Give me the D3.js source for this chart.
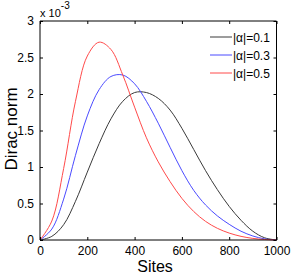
<!DOCTYPE html>
<html>
<head>
<meta charset="utf-8">
<script src="https://cdn.jsdelivr.net/npm/d3@7"></script>
<style>
  body { margin: 0; background: #fff; }
  svg { display: block; font-family: "Liberation Sans", Arial, sans-serif; }
</style>
</head>
<body>
<svg id="chart" width="305" height="277"></svg>
<script>
// norm values in units of 1e-3, every 50 sites
var sites = [0, 50, 100, 150, 200, 250, 300, 350, 400, 450, 500,
             550, 600, 650, 700, 750, 800, 850, 900, 950, 1000];
var alpha01 = [0, 0.05, 0.21, 0.53, 0.93, 1.32, 1.66, 1.90, 2.02, 2.02, 1.94,
               1.78, 1.53, 1.24, 0.95, 0.69, 0.46, 0.27, 0.12, 0.03, 0];
var alpha03 = [0, 0.15, 0.56, 1.16, 1.70, 2.06, 2.24, 2.26, 2.14, 1.90, 1.60,
               1.27, 0.95, 0.68, 0.48, 0.33, 0.215, 0.12, 0.055, 0.015, 0];
var alpha05 = [0, 0.26, 0.98, 1.90, 2.52, 2.71, 2.61, 2.26, 1.82, 1.40, 1.07,
               0.80, 0.57, 0.39, 0.255, 0.16, 0.095, 0.05, 0.022, 0.007, 0];
var seriesNames = ['|\u03b1|=0.1', '|\u03b1|=0.3', '|\u03b1|=0.5'];
var seriesColors = ['#3a3a3a', '#4a4aff', '#ff4a4a'];
var xTicks = [0, 200, 400, 600, 800, 1000];
var yTicks = [0, 0.5, 1, 1.5, 2, 2.5, 3];

var svg = d3.select('#chart');
var pLeft = 40, pRight = 276.5, pTop = 21, pBottom = 240;

var x = d3.scaleLinear().domain([0, 1000]).range([pLeft, pRight]);
var y = d3.scaleLinear().domain([0, 3]).range([pBottom, pTop]);

var line = d3.line()
    .x(function(d) { return x(d[0]); })
    .y(function(d) { return y(d[1]); })
    .curve(d3.curveCatmullRom.alpha(0.5));

var series = [alpha01, alpha03, alpha05];
series.forEach(function(vals, i) {
    svg.append('path')
        .datum(sites.map(function(s, j) { return [s, vals[j]]; }))
        .attr('fill', 'none')
        .attr('stroke', seriesColors[i])
        .attr('stroke-width', 1)
        .attr('d', line);
});

var fmt = function(d) { return String(d); };

var gB = svg.append('g').attr('transform', 'translate(0,' + pBottom + ')')
    .call(d3.axisBottom(x).tickValues(xTicks).tickSize(-3).tickPadding(6).tickFormat(fmt));
var gT = svg.append('g').attr('transform', 'translate(0,' + pTop + ')')
    .call(d3.axisTop(x).tickValues(xTicks).tickSize(-3).tickFormat(''));
var gL = svg.append('g').attr('transform', 'translate(' + pLeft + ',0)')
    .call(d3.axisLeft(y).tickValues(yTicks).tickSize(-3).tickPadding(6).tickFormat(fmt));
var gR = svg.append('g').attr('transform', 'translate(' + pRight + ',0)')
    .call(d3.axisRight(y).tickValues(yTicks).tickSize(-3).tickFormat(''));

[gB, gT, gL, gR].forEach(function(g) {
    g.selectAll('.domain').attr('stroke', '#000').attr('stroke-width', 1);
    g.selectAll('.tick line').attr('stroke', '#000');
    g.selectAll('text').attr('fill', '#000').style('font-size', '12px')
        .style('font-family', '"Liberation Sans", Arial, sans-serif');
});
gL.selectAll('.domain').attr('d', 'M0,' + pTop + 'V' + pBottom);
gR.selectAll('.domain').attr('d', 'M0,' + pTop + 'V' + pBottom);
gB.selectAll('.domain').attr('d', 'M' + pLeft + ',0H' + pRight);
gT.selectAll('.domain').attr('d', 'M' + pLeft + ',0H' + pRight);

// exponent label
var ex = svg.append('text').attr('x', 40).attr('y', 17)
    .style('font-size', '11px').attr('fill', '#000');
ex.append('tspan').text('x 10');
ex.append('tspan').attr('dy', -8).style('font-size', '10px').text('-3');

svg.append('text')
    .attr('transform', 'translate(17,129) rotate(-90)')
    .attr('text-anchor', 'middle')
    .style('font-size', '17px').attr('fill', '#000')
    .text('Dirac norm');

svg.append('text')
    .attr('x', 155).attr('y', 272)
    .attr('text-anchor', 'middle')
    .style('font-size', '16px').attr('fill', '#000')
    .text('Sites');

// legend
var legend = svg.append('g');
seriesNames.forEach(function(name, i) {
    var ly = 37 + i * 18;
    legend.append('line')
        .attr('x1', 210).attr('x2', 232).attr('y1', ly).attr('y2', ly)
        .attr('stroke', seriesColors[i]).attr('stroke-width', 1);
    legend.append('text')
        .attr('x', 233).attr('y', ly + 4.5)
        .style('font-size', '12px').attr('fill', '#000')
        .text(name);
});
</script>
</body>
</html>
